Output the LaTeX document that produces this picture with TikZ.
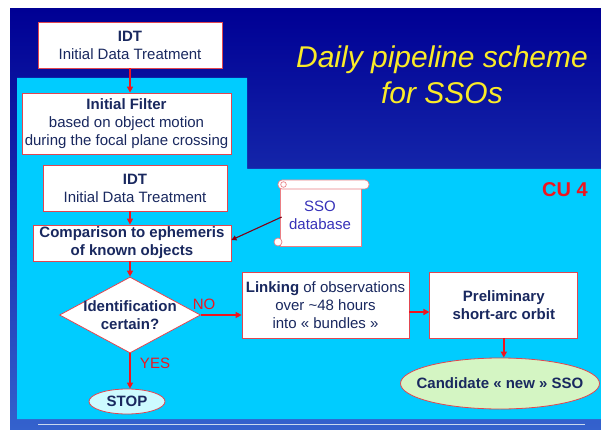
\documentclass[tikz,border=0pt]{standalone}
\usepackage{fontspec}
\setmainfont{Liberation Sans}
\usepackage{tikz}
\usetikzlibrary{arrows.meta,positioning,calc,shapes.geometric}
\definecolor{SlideNavy}{RGB}{0,0,148}
\definecolor{SlideBlue}{RGB}{52,98,205}
\definecolor{PanelCyan}{RGB}{0,204,255}
\definecolor{BoxRed}{RGB}{225,70,80}
\definecolor{FlowRed}{RGB}{240,20,30}
\definecolor{TextNavy}{RGB}{25,40,95}
\definecolor{TitleYellow}{RGB}{250,235,40}
\definecolor{DbBlue}{RGB}{55,50,185}
\definecolor{DbArrow}{RGB}{130,0,20}
\definecolor{StopFill}{RGB}{205,250,255}
\definecolor{CandFill}{RGB}{212,245,195}
\definecolor{RuleGrey}{RGB}{200,215,238}

\begin{document}
\begin{tikzpicture}[x=1pt,y=-1pt,
  node distance=20pt and 20pt,
  box/.style={draw=BoxRed,line width=0.8pt,fill=white,inner sep=0pt,align=center,text=TextNavy,font=\fontsize{15}{18}\selectfont},
  decision/.style={draw=BoxRed,line width=0.8pt,fill=white,diamond,inner sep=0pt,minimum width=141pt,minimum height=76pt},
  oval/.style={draw=BoxRed,line width=0.8pt,ellipse,inner sep=0pt},
  inner/.style={text=TextNavy,align=center,inner sep=0pt,font=\fontsize{15}{18}\selectfont\bfseries},
  lbl/.style={text=FlowRed,inner sep=0pt,font=\fontsize{15}{18}\selectfont},
  arr/.style={-{Triangle[length=6pt,width=6pt]},line width=1.5pt,color=FlowRed},
  dbarr/.style={-{Triangle[length=5pt,width=5pt]},line width=1.1pt,color=DbArrow},
  scrollpart/.style={draw=BoxRed!70,line width=0.7pt,fill=white}
]
\useasboundingbox (0,0) rectangle (601,430);
\fill[white] (0,0) rectangle (601,430);
\shade[top color=SlideNavy,bottom color=SlideBlue] (10,9) rectangle (601,430);
\fill[PanelCyan] (17,78) -- (247,78) -- (247,169) -- (601,169) -- (601,419) -- (17,419) -- cycle;
\draw[RuleGrey,line width=1pt] (38,424) -- (585,424);

\node[text=TitleYellow,align=center,font=\fontsize{30}{36}\selectfont\itshape] (title) at (442,75) {Daily pipeline scheme\\for SSOs};
\node[text=FlowRed,font=\fontsize{20}{24}\selectfont\bfseries] (cu) at (565,190) {CU 4};

\node[box,minimum width=184pt,minimum height=46pt] (idta) at (130,45) {\textbf{IDT}\\Initial Data Treatment};
\node[box,minimum width=209pt,minimum height=61pt] (filter) at (126.5,123.5) {\textbf{Initial Filter}\\based on object motion\\during the focal plane crossing};
\node[box,minimum width=184pt,minimum height=46pt] (idtb) at (135,188) {\textbf{IDT}\\Initial Data Treatment};
\node[box,minimum width=198pt,minimum height=36pt,font=\fontsize{15}{18}\selectfont\bfseries] (compare) at (132,243) {Comparison to ephemeris\\of known objects};
\node[decision] (ident) at (130,315) {};
\node[inner] (identtxt) at (ident.center) {Identification\\certain?};
\node[oval,fill=StopFill,minimum width=76pt,minimum height=25pt] (stop) at (127,401.5) {};
\node[inner] (stoptxt) at (stop.center) {STOP};
\node[box,minimum width=167pt,minimum height=66pt] (linking) at (325.5,305) {\textbf{Linking} of observations\\over \textasciitilde48 hours\\into « bundles »};
\node[box,minimum width=148pt,minimum height=66pt,font=\fontsize{15}{18}\selectfont\bfseries,right=of linking] (prelim) {Preliminary\\short-arc orbit};
\node[oval,fill=CandFill,minimum width=199pt,minimum height=51pt] (cand) at (500,383.5) {};
\node[inner] (candtxt) at (cand.center) {Candidate « new » SSO};

\node[scrollpart,minimum width=81pt,minimum height=58pt,inner sep=0pt] (ssodb) at (320.5,217) {};
\draw[scrollpart,rounded corners=4pt] (278,180) rectangle (369,189);
\draw[scrollpart] (283.5,184.5) circle (2.8pt);
\draw[scrollpart] (278,242) circle (4pt);
\node[text=DbBlue,align=center,inner sep=0pt,font=\fontsize{15}{18}\selectfont] (ssotxt) at (320,215) {SSO\\database};

\node[lbl] (no) at (204,304) {NO};
\node[lbl] (yes) at (155,363) {YES};

\draw[arr] (idta.south) -- (idta.south |- filter.north);
\draw[arr] (idtb.south -| ident.north) -- (compare.north -| ident.north);
\draw[arr] (compare.south -| ident.north) -- (ident.north);
\draw[arr] (ident.east) -- (ident.east -| linking.west);
\draw[arr] ([yshift=-7pt]linking.east) -- ([yshift=-7pt]prelim.west);
\draw[arr] (prelim.south) -- (prelim.south |- cand.north);
\draw[arr] (ident.south) -- (ident.south |- stop.north);
\draw[dbarr] ([xshift=2pt]ssodb.west) -- ([yshift=3pt]compare.east);
\end{tikzpicture}
\end{document}
